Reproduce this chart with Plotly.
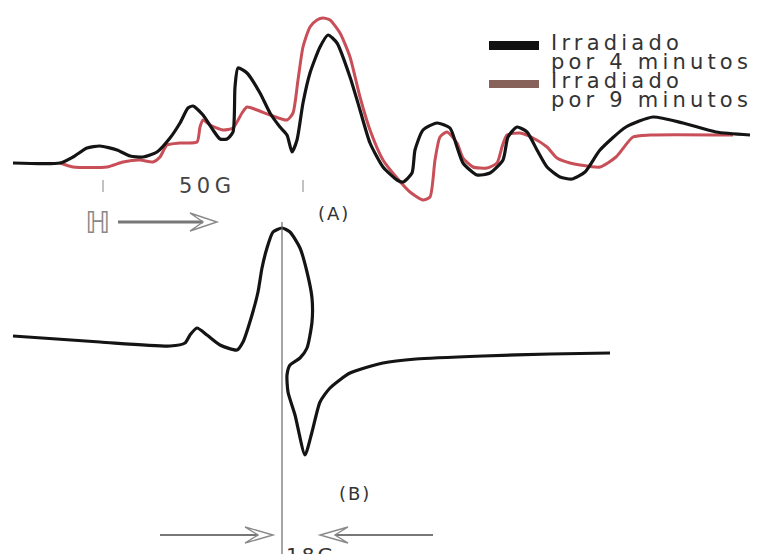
import plotly.graph_objects as go

# ---- Data (arbitrary field / signal units) ----
field_a_4min = [13, 60, 73, 87, 100, 117, 130, 143, 157, 170, 180, 188, 193, 203, 213, 220, 227, 233,
                235, 238, 247, 260, 270, 280, 287, 292, 297, 303, 310, 320, 328, 337, 350, 360, 370,
                383, 397, 403, 412, 415, 423, 437, 450, 457, 463, 477, 490, 503, 508, 517, 527, 537,
                547, 560, 572, 585, 600, 626, 653, 683, 716, 750]
signal_a_4min = [163, 163, 157, 148, 146, 150, 156, 157, 152, 138, 123, 108, 106, 115, 130, 139, 139, 132,
                 87, 68, 73, 93, 113, 127, 135, 152, 140, 103, 73, 47, 35, 43, 77, 110, 143,
                 167, 180, 182, 173, 150, 130, 123, 128, 147, 163, 175, 173, 160, 137, 127, 132, 150,
                 167, 177, 179, 172, 150, 127, 117, 123, 132, 135]

field_a_9min = [60, 73, 107, 123, 140, 153, 160, 167, 180, 197, 200, 203, 210, 223, 233, 242, 247, 257,
                270, 287, 293, 298, 303, 310, 317, 323, 330, 340, 350, 360, 370, 383, 397, 410, 423,
                430, 435, 440, 447, 457, 463, 473, 487, 497, 502, 507, 520, 533, 547, 557, 570, 580,
                600, 616, 633, 650, 733]
signal_a_9min = [163, 167, 167, 162, 160, 162, 157, 145, 143, 142, 127, 120, 125, 130, 128, 113, 107, 110,
                 115, 120, 113, 80, 47, 27, 20, 18, 20, 33, 57, 97, 130, 160, 178, 192, 200,
                 197, 160, 137, 132, 143, 158, 167, 168, 163, 147, 135, 133, 138, 147, 158, 163, 165,
                 167, 157, 137, 135, 135]

field_b = [13, 100, 170, 185, 190, 197, 207, 220, 237, 243, 252, 258, 262, 267, 273, 282, 290, 300,
           307, 312, 312, 307, 300, 290, 287, 288, 295, 305, 312, 320, 330, 350, 383, 416, 483, 550, 610]
signal_b = [336, 342, 346, 343, 335, 328, 335, 345, 350, 342, 315, 292, 268, 248, 232, 228, 232, 248,
            272, 298, 322, 348, 358, 365, 375, 392, 415, 455, 432, 402, 388, 373, 363, 359, 356, 354, 353]

legend_lines = ["Irradiado", "por 4 minutos", "Irradiado", "por 9 minutos"]
scale_label = "50G"
width_label = "18G"

BLACK = "#141414"
RED = "#c84f58"

# the page body has an 8px margin: the figure covers page pixels 8..766 x 8..554
OFF = 8
W, H = 766, 554

fig = go.Figure()
fig.add_trace(go.Scatter(x=field_a_9min, y=signal_a_9min, mode="lines",
                         line=dict(color=RED, width=3, shape="spline", smoothing=0.6),
                         showlegend=False, hoverinfo="skip"))
fig.add_trace(go.Scatter(x=field_a_4min, y=signal_a_4min, mode="lines",
                         line=dict(color=BLACK, width=3.2, shape="spline", smoothing=0.6),
                         showlegend=False, hoverinfo="skip"))
fig.add_trace(go.Scatter(x=field_b, y=signal_b, mode="lines",
                         line=dict(color=BLACK, width=3.2, shape="spline", smoothing=0.6),
                         showlegend=False, hoverinfo="skip"))

shapes = []
shapes.append(dict(type="line", x0=282, x1=282, y0=222, y1=554, line=dict(color="#6a6a6a", width=1.2)))
for xt in (103, 303):
    shapes.append(dict(type="line", x0=xt, x1=xt, y0=180, y1=192, line=dict(color="#999", width=1.2)))
shapes.append(dict(type="line", x0=118, x1=203, y0=222, y1=222, line=dict(color="#777", width=3)))
shapes.append(dict(type="path", path="M190,213 L217,222 L190,231 L203,222 Z", line=dict(color="#888", width=1.4)))
shapes.append(dict(type="line", x0=160, x1=258, y0=535, y1=535, line=dict(color="#777", width=2)))
shapes.append(dict(type="path", path="M245,527 L273,535 L245,543 L258,535 Z", line=dict(color="#888", width=1.4)))
shapes.append(dict(type="line", x0=433, x1=335, y0=535, y1=535, line=dict(color="#777", width=2)))
shapes.append(dict(type="path", path="M348,527 L320,535 L348,543 L335,535 Z", line=dict(color="#888", width=1.4)))
shapes.append(dict(type="rect", x0=489, x1=539, y0=41, y1=50, fillcolor="#111", line=dict(width=0)))
shapes.append(dict(type="rect", x0=489, x1=539, y0=80, y1=88, fillcolor="#86625a", line=dict(width=0)))

FONT = "DejaVu Sans"


def spaced(t, px):
    return f'<span style="letter-spacing:{px}px">{t}</span>'


ann = []
for i, (txt, yc) in enumerate(zip(legend_lines, [43, 62, 81, 100])):
    ann.append(dict(x=550, y=yc, text=spaced(txt, 4.2), xanchor="left", yanchor="middle", showarrow=False,
                    borderpad=0, font=dict(family=FONT, size=21, color="#333")))
ann.append(dict(x=207, y=186, text=spaced(scale_label, 4.5), showarrow=False,
                font=dict(family=FONT, size=21, color="#444")))
ann.append(dict(x=334, y=213, text=spaced("(A)", 2), showarrow=False, font=dict(family=FONT, size=18, color="#333")))
ann.append(dict(x=355, y=493, text=spaced("(B)", 2), showarrow=False, font=dict(family=FONT, size=18, color="#333")))
ann.append(dict(x=98, y=222, text="ℍ", showarrow=False, font=dict(family=FONT, size=30, color="#888")))
ann.append(dict(x=284, y=541, text=spaced(width_label, 3), xanchor="left", yanchor="top", showarrow=False,
                font=dict(family=FONT, size=20, color="#333")))

fig.update_layout(
    width=W - OFF, height=H - OFF,
    margin=dict(l=0, r=0, t=0, b=0),
    paper_bgcolor="white", plot_bgcolor="white",
    xaxis=dict(range=[OFF, W], visible=False, fixedrange=True),
    yaxis=dict(range=[H, OFF], visible=False, fixedrange=True),
    shapes=shapes, annotations=ann,
)
fig.write_html("out.html")
